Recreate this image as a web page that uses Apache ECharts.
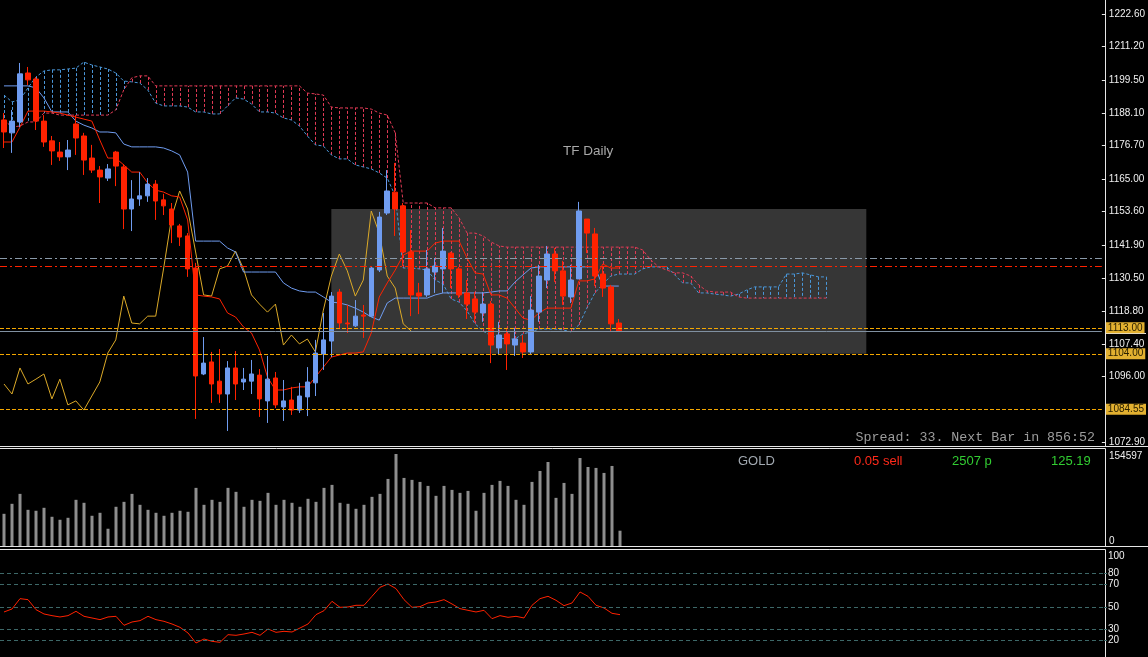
<!DOCTYPE html>
<html lang="en">
<head>
    <meta charset="UTF-8">
    <title>GOLD Daily</title>
    <script src="https://cdn.jsdelivr.net/npm/echarts@6.0.0/dist/echarts.min.js"></script>
    <style>
        html, body { margin: 0; padding: 0; background: #000; }
        #chart { width: 1148px; height: 657px; }
    </style>
</head>
<body>
<!-- one box, three panes: price + ichimoku, volume, rsi -->
<div id="chart"></div>

<script>
    // bar slots on the x axis (78 real bars, cloud runs 26 ahead, rest is empty space)
    var categories = [];
    for (var n = 0; n < 138; n++) categories.push(String(n));

    // daily OHLC
    var opens = [1185.6,1181.1,1184.9,1202.0,1199.9,1185.2,1178.3,1174.4,1172.7,1184.2,
        1180.0,1172.3,1168.1,1165.3,1174.4,1169.2,1154.5,1158.0,1159.1,1163.2,
        1157.7,1154.5,1148.6,1145.1,1133.9,1096.9,1101.1,1094.4,1089.9,1099.0,
        1094.1,1094.4,1096.5,1087.5,1095.5,1085.4,1087.8,1084.3,1088.9,1093.8,
        1103.9,1108.4,1125.5,1114.7,1113.7,1117.5,1117.1,1133.2,1153.1,1160.4,
        1155.6,1139.5,1125.2,1124.5,1132.5,1133.6,1139.1,1133.6,1125.2,1123.1,
        1118.2,1121.3,1106.0,1110.9,1107.0,1107.7,1104.6,1118.5,1129.7,1138.8,
        1132.9,1123.8,1130.1,1151.0,1145.8,1131.8,1127.3,1114.7];
    var closes = [1181.4,1185.2,1201.7,1199.6,1185.2,1177.9,1174.8,1172.7,1175.1,1179.3,
        1171.6,1168.1,1165.7,1168.5,1169.5,1154.5,1158.0,1159.1,1163.2,1157.3,
        1155.6,1148.9,1144.7,1133.6,1096.2,1100.7,1093.4,1089.9,1099.0,1093.4,
        1095.1,1096.9,1088.2,1095.1,1086.1,1087.5,1084.3,1089.2,1094.1,1104.2,
        1108.8,1124.1,1114.7,1114.4,1117.1,1117.1,1133.9,1151.7,1160.8,1154.5,
        1139.5,1124.5,1124.1,1133.6,1134.6,1139.8,1133.6,1124.5,1121.3,1118.5,
        1121.3,1107.0,1110.5,1107.4,1109.1,1104.6,1119.2,1131.1,1138.8,1132.9,
        1124.1,1129.7,1153.8,1146.1,1131.1,1126.9,1114.4,1111.9];
    var lows = [1175.8,1174.1,1183.1,1197.8,1182.1,1176.2,1169.9,1171.3,1168.1,1173.4,
        1166.4,1167.1,1156.6,1164.3,1162.5,1147.5,1146.8,1155.6,1157.0,1150.7,
        1152.4,1142.6,1141.6,1130.8,1081.2,1096.5,1086.8,1086.8,1077.0,1087.8,
        1091.3,1089.9,1081.9,1079.8,1085.0,1080.5,1082.6,1083.3,1082.2,1089.2,
        1098.3,1102.8,1112.6,1111.2,1113.3,1109.5,1116.8,1132.5,1152.4,1145.1,
        1134.6,1117.1,1117.8,1123.8,1125.2,1125.2,1126.9,1123.4,1116.1,1115.1,
        1115.1,1100.7,1103.5,1098.3,1103.2,1102.5,1103.9,1115.1,1126.9,1129.0,
        1121.0,1121.7,1130.1,1139.1,1127.6,1123.8,1111.6,1111.6];
    var highs = [1188.0,1189.1,1205.5,1204.1,1200.6,1187.3,1180.0,1177.9,1178.6,1187.3,
        1181.1,1176.9,1169.5,1170.2,1174.8,1170.2,1164.6,1167.4,1165.3,1164.6,
        1159.8,1156.6,1149.3,1146.1,1135.7,1109.8,1104.6,1105.6,1101.4,1104.9,
        1099.0,1101.8,1098.6,1103.2,1097.6,1094.8,1092.4,1093.8,1099.3,1108.8,
        1118.2,1125.5,1126.6,1121.0,1122.7,1121.0,1134.3,1153.5,1168.1,1170.6,
        1156.6,1147.2,1128.7,1140.2,1137.4,1147.9,1139.5,1134.3,1129.7,1125.5,
        1125.5,1122.4,1115.1,1113.0,1113.0,1110.5,1124.1,1135.0,1141.6,1140.9,
        1136.4,1135.0,1157.0,1151.0,1147.9,1134.3,1128.0,1116.1];

    // ichimoku lines as drawn
    var tenkan = [1177.9,1177.9,1183.1,1188.7,1188.7,1188.7,1188.4,1188.0,1187.3,1186.6,
        1185.9,1185.2,1178.6,1172.3,1172.3,1169.9,1167.4,1167.4,1163.6,1161.1,
        1160.4,1159.1,1158.7,1150.7,1124.5,1124.1,1123.8,1123.1,1118.2,1116.8,
        1113.3,1111.2,1105.3,1095.8,1091.3,1091.3,1092.0,1092.4,1092.4,1095.8,
        1099.3,1102.8,1103.5,1104.2,1104.2,1104.6,1111.2,1123.8,1128.7,1133.2,
        1138.4,1139.8,1139.8,1139.8,1142.6,1143.3,1143.3,1143.3,1137.4,1132.2,
        1131.8,1124.5,1124.5,1123.4,1119.9,1116.4,1115.7,1118.2,1119.9,1119.9,
        1119.9,1119.9,1129.4,1129.4,1130.1,1135.3,1133.9,1133.9];
    var kijun = [1197.5,1197.5,1197.5,1197.5,1196.8,1193.3,1188.4,1188.4,1188.4,1185.2,
        1183.8,1182.8,1181.4,1181.4,1181.1,1177.2,1176.2,1176.2,1176.2,1176.2,
        1175.8,1174.8,1173.4,1167.4,1143.3,1143.3,1143.3,1143.3,1140.9,1139.5,
        1132.5,1132.5,1132.5,1132.5,1132.5,1128.7,1126.9,1125.9,1125.5,1125.5,
        1123.8,1122.0,1121.7,1121.0,1119.9,1118.5,1116.8,1115.7,1121.7,1123.4,
        1123.4,1123.4,1123.4,1123.4,1124.5,1125.2,1125.2,1125.2,1125.2,1125.2,
        1125.2,1125.5,1125.9,1125.9,1129.0,1131.5,1133.9,1134.3,1134.3,1134.3,
        1134.3,1134.3,1134.3,1134.3,1134.3,1127.6,1127.6,1127.6];
    var spanA = [1194.3,1191.9,1192.6,1196.8,1200.6,1202.7,1203.1,1203.1,1203.4,1203.7,
        1205.8,1204.8,1204.1,1203.4,1202.0,1199.2,1198.9,1198.5,1196.1,1191.5,
        1190.5,1190.5,1190.5,1190.1,1188.4,1188.4,1187.7,1187.7,1190.5,1193.3,
        1192.9,1191.2,1188.4,1188.4,1188.0,1186.3,1185.6,1183.5,1180.0,1176.9,
        1176.5,1173.4,1172.0,1172.0,1169.9,1169.2,1168.5,1167.1,1165.3,1159.1,
        1133.9,1133.9,1133.6,1133.2,1129.7,1128.3,1123.1,1122.0,1118.9,1114.4,
        1111.9,1110.2,1109.5,1109.1,1109.1,1110.9,1111.6,1112.6,1112.6,1112.6,
        1112.3,1111.6,1114.0,1119.9,1125.2,1128.3,1131.1,1131.8,1131.8,1131.8,
        1133.6,1134.3,1134.3,1134.3,1131.5,1128.7,1128.7,1125.2,1125.2,1124.8,
        1124.5,1124.1,1124.8,1126.2,1127.3,1127.3,1127.3,1127.3,1131.8,1131.8,
        1132.2,1131.5,1130.8,1130.8];
    var spanB = [1185.6,1183.1,1183.5,1184.9,1184.9,1188.0,1188.0,1187.3,1187.3,1187.3,
        1187.3,1187.3,1187.3,1187.3,1189.1,1196.1,1200.3,1201.0,1201.0,1197.5,
        1197.5,1197.5,1197.5,1197.5,1197.5,1197.5,1197.5,1197.5,1197.5,1197.5,
        1197.5,1197.5,1197.5,1197.5,1197.5,1197.5,1197.5,1197.5,1195.0,1194.7,
        1194.3,1190.1,1189.8,1189.8,1189.8,1189.8,1189.4,1188.0,1187.3,1181.1,
        1156.6,1156.6,1156.6,1156.6,1154.9,1154.9,1154.9,1151.4,1146.1,1146.1,
        1145.1,1143.0,1141.6,1141.2,1141.2,1141.2,1141.2,1141.2,1141.2,1141.2,
        1141.2,1141.2,1141.2,1141.2,1141.2,1141.2,1141.2,1141.2,1141.2,1141.2,
        1140.2,1136.7,1134.3,1133.2,1132.2,1132.2,1131.1,1128.0,1125.9,1125.5,
        1125.5,1125.5,1123.8,1123.4,1123.4,1123.4,1123.4,1123.4,1123.4,1123.4,
        1123.4,1123.4,1123.4,1123.4];

    // tick volume and RSI
    var volumes = [54100,70900,87600,60800,59200,64200,49100,44100,47400,77600,
        72600,50800,55800,29000,65900,74200,87600,69200,60800,55800,
        50800,55800,59200,57500,97700,69200,77600,74200,97700,91000,
        65900,77600,75900,89300,69200,77600,72600,65900,79300,74200,
        97700,102700,72600,70900,62500,69200,82600,87600,112700,154597,
        114400,111100,107700,101000,84300,101000,94300,89300,92600,59200,
        89300,102700,109400,101000,77600,69200,107700,126100,141200,80900,
        106000,87600,147900,132800,131200,122800,134500,25700];
    var rsi = [45.5,48.2,57.5,56.6,47.6,43.7,42.2,41.0,42.2,46.1,
        41.6,40.1,38.6,41.0,41.6,33.5,36.5,37.7,41.6,38.6,
        37.1,34.7,31.7,26.6,17.6,21.2,19.1,18.2,25.1,24.5,
        25.7,27.2,24.5,30.2,27.2,28.1,27.5,31.1,34.7,43.1,
        46.7,55.1,49.7,50.0,51.5,51.5,59.6,67.7,70.7,66.5,
        56.6,49.7,50.3,53.6,54.5,56.6,52.7,48.5,47.0,45.5,
        47.0,39.5,42.2,40.7,41.6,40.1,51.5,57.5,59.6,56.0,
        51.2,53.6,63.5,59.6,51.5,49.1,44.3,43.1];

    // axis ticks and levels
    var priceTicks = [1222.6, 1211.2, 1199.5, 1188.1, 1176.7, 1165.0, 1153.6, 1141.9, 1130.5, 1118.8, 1107.4, 1096.0, 1072.9];
    var volumeTicks = [0, 154597];
    var rsiTicks = [20, 30, 50, 70, 80, 100];
    var rsiLevels = [20, 30, 50, 70, 80];
    var goldLevels = [1113.00, 1104.00, 1084.55];
    var grayLevel = 1137.4;
    var redLevel = 1134.5;
    var bidPrice = 1111.9;
    var boxPrices = [1154.5, 1104.0];
    var boxBars = ['41', '108'];

    // chikou = close moved back 26 bars
    var chikou = closes.slice(26);

    var candles = opens.map(function (o, i) { return [o, closes[i], lows[i], highs[i]]; });
    var cloud = spanA.map(function (a, i) { return [i, a, spanB[i]]; });

    var BULL = '#6f9cf0', BEAR = '#ff2200', CLOUD_RED = '#e23a55', CLOUD_BLUE = '#4a96d8';
    var GOLDLINE = '#f4a700';
    var FONT = 'Liberation Sans';

    // horizontal levels: value list + matching look
    var levelValues = [grayLevel, redLevel, bidPrice].concat(goldLevels);
    var levelLook = [
        {color: '#8a9aaa', dash: [7, 3, 2, 3]},
        {color: '#ff2200', dash: [7, 3, 2, 3]},
        {color: '#8090a0', dash: null},
        {color: GOLDLINE, dash: [4, 2]},
        {color: GOLDLINE, dash: [4, 2]},
        {color: GOLDLINE, dash: [4, 2]}
    ];

    var myChart = echarts.init(document.getElementById('chart'));

    function xAx(k) {
        return {type: 'category', gridIndex: k, data: categories, boundaryGap: true, show: false};
    }
    function white(x1, y1, x2, y2) {
        return {type: 'line', silent: true, shape: {x1: x1, y1: y1, x2: x2, y2: y2},
            style: {stroke: '#e6e6e6', lineWidth: 1}};
    }
    function txt(s, left, top, color, family, size) {
        return {text: s, left: left, top: top, padding: 0,
            textStyle: {color: color, fontFamily: family || FONT, fontSize: size || 13, fontWeight: 'normal'}};
    }

    var option = {
        backgroundColor: '#000',
        animation: false,
        title: [
            txt('TF Daily', 563, 144, '#a8a8a8', FONT, 13.5),
            {text: 'Spread: 33. Next Bar in 856:52', right: 53, top: 431, padding: 0,
                textStyle: {color: '#9c9c9c', fontFamily: 'Liberation Mono', fontSize: 13.3, fontWeight: 'normal'}},
            txt('GOLD', 738, 455, '#a2a9b1'),
            txt('0.05 sell', 854, 455, '#ff2a1a'),
            txt('2507 p', 952, 455, '#32cd32'),
            txt('125.19', 1051, 455, '#32cd32')
        ],
        grid: [
            {left: 0, top: 0, width: 1104, height: 446},
            {left: 0, top: 454, width: 1104, height: 92},
            // rsi pane is cut by the window bottom: its 0 line would sit a few px below it
            {left: 0, top: 551.4, width: 1104, height: 105.6}
        ],
        xAxis: [xAx(0), xAx(1), xAx(2)],
        yAxis: [
            {
                gridIndex: 0, type: 'value', position: 'right', min: 1071.75, max: 1227.49,
                splitLine: {show: false}, axisLine: {show: false},
                axisTick: {show: true, customValues: priceTicks, length: 4, lineStyle: {color: '#e6e6e6'}},
                axisLabel: {customValues: priceTicks, margin: 7, color: '#f0f0f0', fontFamily: FONT, fontSize: 10,
                    formatter: function (v) { return v.toFixed(2); }}
            },
            {
                gridIndex: 1, type: 'value', position: 'right', min: 0, max: 154597,
                splitLine: {show: false}, axisLine: {show: false}, axisTick: {show: false},
                axisLabel: {customValues: volumeTicks, margin: 5,
                    formatter: function (v) { return v === 0 ? '{lo|0}' : '{hi|' + v + '}'; },
                    rich: {
                        lo: {color: '#f0f0f0', fontFamily: FONT, fontSize: 10, padding: [0, 0, 10, 0]},
                        hi: {color: '#f0f0f0', fontFamily: FONT, fontSize: 10, padding: [4, 0, 0, 0]}
                    }}
            },
            {
                gridIndex: 2, type: 'value', position: 'right', min: 5, max: 100,
                splitLine: {show: false}, axisLine: {show: false},
                axisTick: {show: true, customValues: rsiLevels, length: 3, lineStyle: {color: '#3d6868'}},
                axisLabel: {customValues: rsiTicks, margin: 4, showMinLabel: true, showMaxLabel: true,
                    formatter: function (v) {
                        return v === 100 ? '{hi|100}' : '{m|' + v + '}';
                    },
                    rich: {
                        hi: {color: '#f0f0f0', fontFamily: FONT, fontSize: 10, padding: [10, 0, 0, 0]},
                        m: {color: '#f0f0f0', fontFamily: FONT, fontSize: 10}
                    }}
            }
        ],
        series: [
            {
                // grey range box, behind everything
                name: 'box', type: 'line', xAxisIndex: 0, yAxisIndex: 0, data: [], z: 0,
                markArea: {silent: true, itemStyle: {color: '#363636'},
                    data: [[{xAxis: boxBars[0], yAxis: boxPrices[0]}, {xAxis: boxBars[1], yAxis: boxPrices[1]}]]}
            },
            {
                // kumo hatching: one dotted stroke per bar between span A and span B
                name: 'kumo', type: 'custom', xAxisIndex: 0, yAxisIndex: 0, z: 2, clip: true,
                data: cloud,
                encode: {x: 0, y: [1, 2]},
                renderItem: function (params, api) {
                    var i = api.value(0);
                    var p1 = api.coord([i, api.value(1)]);
                    var p2 = api.coord([i, api.value(2)]);
                    var x = Math.round(p1[0]) + 0.5;
                    var col = api.value(2) > api.value(1) ? CLOUD_RED : CLOUD_BLUE;
                    return {type: 'line', shape: {x1: x, y1: p1[1], x2: x, y2: p2[1]},
                        style: {stroke: col, lineWidth: 1, lineDash: [3, 2]}};
                }
            },
            {name: 'Senkou A', type: 'line', xAxisIndex: 0, yAxisIndex: 0, data: spanA, z: 3,
                showSymbol: false, lineStyle: {color: CLOUD_BLUE, width: 1, type: [3, 2]}},
            {name: 'Senkou B', type: 'line', xAxisIndex: 0, yAxisIndex: 0, data: spanB, z: 3,
                showSymbol: false, lineStyle: {color: CLOUD_RED, width: 1, type: [3, 2]}},
            {name: 'Chikou', type: 'line', xAxisIndex: 0, yAxisIndex: 0, data: chikou, z: 4,
                showSymbol: false, lineStyle: {color: '#dcaa28', width: 1}},
            {name: 'Kijun', type: 'line', xAxisIndex: 0, yAxisIndex: 0, data: kijun, z: 4,
                showSymbol: false, lineStyle: {color: '#6f9cf0', width: 1}},
            {name: 'Tenkan', type: 'line', xAxisIndex: 0, yAxisIndex: 0, data: tenkan, z: 4,
                showSymbol: false, lineStyle: {color: '#ff2200', width: 1}},
            {
                name: 'GOLD', type: 'candlestick', xAxisIndex: 0, yAxisIndex: 0, data: candles, z: 5,
                barWidth: 5,
                itemStyle: {color: BULL, color0: BEAR, borderColor: BULL, borderColor0: BEAR, borderWidth: 1}
            },
            {
                // horizontal levels across the price pane, snapped to whole pixels
                name: 'levels', type: 'custom', xAxisIndex: 0, yAxisIndex: 0, z: 6,
                data: levelValues.map(function (v) { return [0, v]; }),
                encode: {x: 0, y: 1},
                renderItem: function (params, api) {
                    var cs = params.coordSys;
                    var y = Math.round(api.coord([0, api.value(1)])[1]) + 0.5;
                    var look = levelLook[params.dataIndex];
                    return {type: 'line', shape: {x1: cs.x, y1: y, x2: cs.x + cs.width, y2: y},
                        style: {stroke: look.color, lineWidth: 1, lineDash: look.dash}};
                }
            },
            {
                // price tags of the orange levels on the axis (line itself drawn above)
                name: 'alerts', type: 'line', xAxisIndex: 0, yAxisIndex: 0, data: [], z: 7,
                markLine: {
                    silent: true, symbol: 'none', animation: false,
                    lineStyle: {color: 'rgba(0,0,0,0)', width: 1},
                    label: {show: true, position: 'end', distance: 4,
                        formatter: function (p) { return p.value.toFixed(2); },
                        backgroundColor: '#e2b030', color: '#2a2000', fontFamily: FONT, fontSize: 10,
                        padding: [1, 2, 0, 2]},
                    data: goldLevels.map(function (v) { return {yAxis: v}; })
                }
            },
            {name: 'Volume', type: 'bar', xAxisIndex: 1, yAxisIndex: 1, data: volumes, barWidth: 3,
                itemStyle: {color: '#8e8e8e'}},
            {
                name: 'RSI', type: 'line', xAxisIndex: 2, yAxisIndex: 2, data: rsi, z: 4,
                showSymbol: false, lineStyle: {color: '#ff2200', width: 1},
                markLine: {silent: true, symbol: 'none', label: {show: false},
                    lineStyle: {color: '#3d6868', width: 1, type: [4, 3]},
                    data: rsiLevels.map(function (v) { return {yAxis: v}; })}
            }
        ],
        graphic: [
            white(1105.5, 0, 1105.5, 446),
            white(0, 446.5, 1148, 446.5),
            white(0, 448.5, 1105.5, 448.5),
            white(1105.5, 448.5, 1105.5, 546.5),
            white(0, 546.5, 1148, 546.5),
            white(0, 549.5, 1105.5, 549.5),
            white(1105.5, 549.5, 1105.5, 657),
            white(1106, 333.5, 1146, 333.5)
        ]
    };

    myChart.setOption(option);
</script>
</body>
</html>
